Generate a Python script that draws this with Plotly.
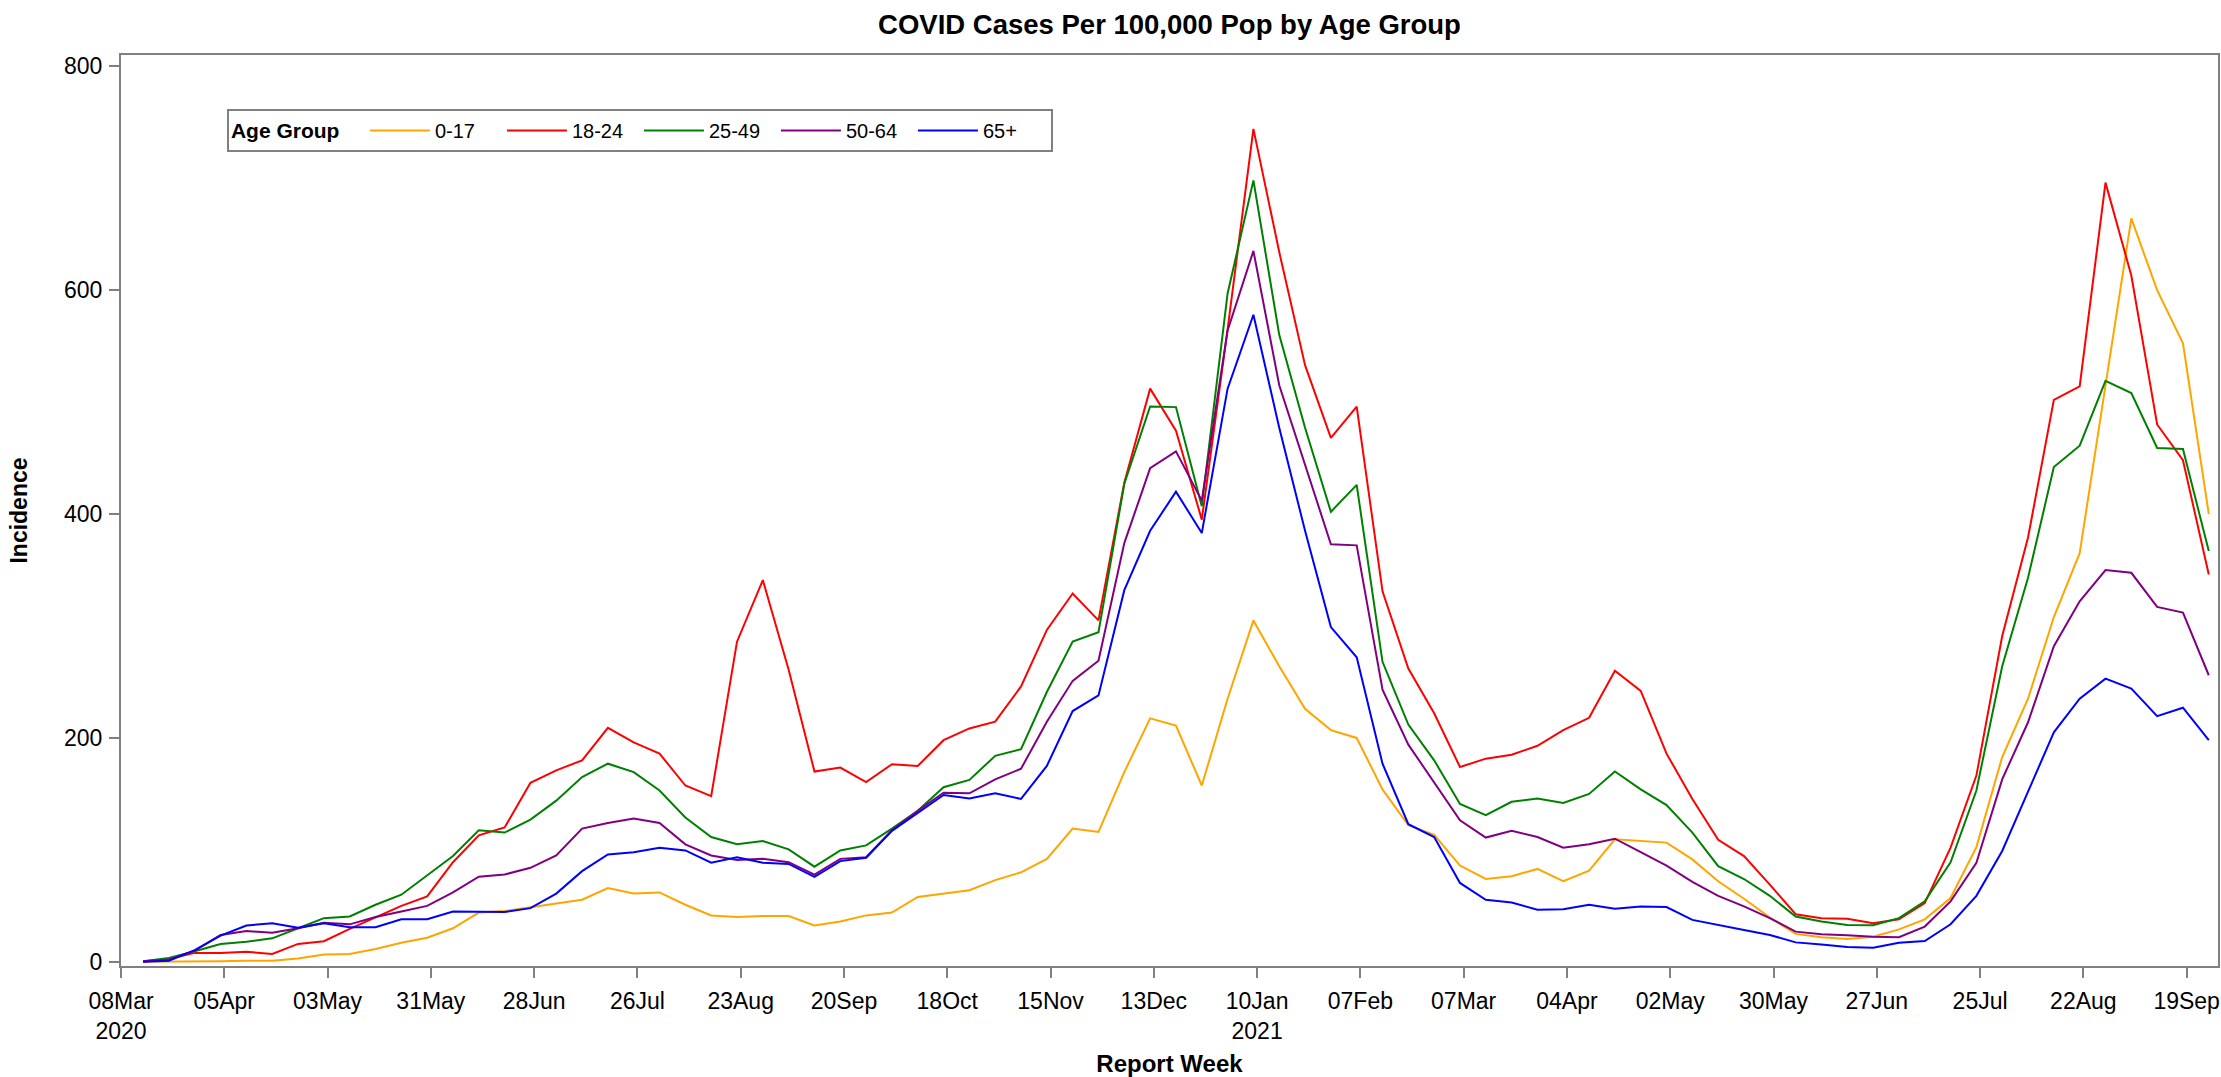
import plotly.graph_objects as go
import pandas as pd

# Report weeks (Saturdays), 14Mar2020 .. 25Sep2021
weeks = pd.date_range("2020-03-14", periods=81, freq="7D")

age_0_17 = [0, 0, 0, 0.5, 1, 1, 3, 6.5, 7, 11.5, 17, 21.5, 30, 44, 45.5, 49, 52.5, 55.5, 66, 61,
            62, 51, 41.5, 40, 41, 41, 32.5, 36, 41.5, 44, 58, 61, 64, 73, 80, 92, 119, 116, 169.5, 217.5,
            211, 157.5, 235, 305, 264, 226, 207, 200, 154, 122, 113.5, 86, 74, 76.5, 83, 72, 81.5, 109.5, 108, 106.5,
            91.5, 72, 56.4, 39.6, 25, 22, 20.4, 22.5, 29, 38, 57, 102.5, 183, 235, 308, 365, 515, 664, 600, 552.5,
            400]
age_18_24 = [0, 2.5, 8, 8, 9, 7, 16, 18.5, 29.5, 40, 50, 58.5, 89, 113, 120, 160, 171, 180, 209, 196,
             186, 157.5, 148, 286, 341, 261, 170, 173.5, 160.5, 176.5, 175, 198, 208.5, 214.5, 246, 296.5, 329, 305, 428, 512,
             474.5, 395, 565, 744, 634, 533, 468, 496, 331, 262, 222, 174, 181.5, 185, 193, 207, 218, 260, 242, 186,
             145.5, 109, 94.5, 69, 42.5, 39, 38.5, 34.5, 38, 52.5, 102, 166.4, 291, 379, 502, 514, 696, 613, 480, 448,
             346]
age_25_49 = [0.5, 3.5, 9.5, 16, 18, 21, 30, 39, 40.5, 51, 60, 77, 94.5, 117.5, 115.5, 127, 144, 165, 177, 169.5,
             153, 129, 111.5, 105, 108, 100.5, 85, 99.5, 104, 119, 135, 156, 162.5, 184, 190, 241, 286, 294.5, 427, 496,
             495.5, 407, 597, 698, 560, 477, 402, 426, 268, 212, 180, 141, 131, 143, 146, 142, 150, 170, 154, 140,
             115.5, 85.5, 74, 59, 40.5, 36, 33, 32.7, 39, 54, 89, 153, 264, 343, 442, 461, 519, 508, 459, 458,
             367]
age_50_64 = [0.5, 2, 10, 24, 27.5, 26, 30, 35, 33.5, 40, 45, 50, 62, 76, 78, 84, 95, 119, 124, 128,
             124, 105, 95, 91, 92, 89, 78, 92, 93.5, 117.5, 135, 151, 150.5, 163, 172.5, 214.5, 251, 269, 374, 441,
             456, 412, 564, 635, 515, 444, 373, 372, 243, 194, 160, 126.5, 111, 117, 111.5, 102, 105, 110, 98, 86,
             71.5, 59, 49.5, 39, 27, 24.6, 23.7, 22.5, 22, 31.5, 54, 88.5, 163, 214, 282, 322, 350, 347.5, 317, 312,
             256]
age_65_plus = [0, 1, 10.5, 23.5, 32.5, 34.5, 30.5, 34.5, 31, 31, 38, 38, 45, 44.5, 44.5, 48, 61, 81, 96, 98,
               102, 99.5, 88.5, 93.5, 88.5, 87.5, 76, 90, 93, 117, 133, 149, 146, 150.5, 145.5, 175, 224, 238, 332, 385,
               420, 383, 512, 578, 477, 385, 299, 272, 177, 123, 111.5, 70.5, 55.5, 53, 46.5, 47, 51, 47.5, 49.5, 49,
               37.5, 32.7, 28.5, 24, 17.4, 15.6, 13.2, 12.6, 17, 18.6, 33.6, 59, 99, 152, 205, 235, 253, 244, 219.5, 227,
               198]

groups = ["0-17", "18-24", "25-49", "50-64", "65+"]
series = [age_0_17, age_18_24, age_25_49, age_50_64, age_65_plus]
colors = ["#FFA500", "#FF0000", "#008000", "#800080", "#0000FF"]

tick_dates = pd.date_range("2020-03-08", periods=21, freq="28D")
tick_labels = ["08Mar<br>2020", "05Apr", "03May", "31May", "28Jun", "26Jul", "23Aug", "20Sep", "18Oct",
               "15Nov", "13Dec", "10Jan<br>2021", "07Feb", "07Mar", "04Apr", "02May", "30May", "27Jun",
               "25Jul", "22Aug", "19Sep"]
y_ticks = [0, 200, 400, 600, 800]

FONT = "Liberation Sans, Arial, sans-serif"
NARROW = "Liberation Sans Narrow, Liberation Sans, Arial, sans-serif"

fig = go.Figure()
for name, vals, col in zip(groups, series, colors):
    fig.add_trace(go.Scatter(x=weeks, y=vals, mode="lines", name=name,
                             line=dict(color=col, width=2)))

axis_common = dict(showline=True, linecolor="#808080", linewidth=2, mirror=True,
                   ticks="outside", ticklen=10, tickwidth=2, tickcolor="#808080",
                   showgrid=False, zeroline=False, automargin=False,
                   tickfont=dict(family=FONT, size=23, color="black"))

fig.update_layout(
    width=2221, height=1077,
    margin=dict(l=121, r=3, t=55, b=111),
    paper_bgcolor="white", plot_bgcolor="white",
    title=dict(text="<b>COVID Cases Per 100,000 Pop by Age Group</b>",
               x=0.5, xref="paper", xanchor="center",
               y=1 - 24 / 1077, yref="container", yanchor="middle",
               font=dict(family=FONT, size=27.5, color="black")),
    xaxis=dict(type="date", range=["2020-03-08", "2021-09-27 12:00"],
               tickvals=tick_dates, ticktext=tick_labels, ticklabelstandoff=3,
               title=dict(text="<b>Report Week</b>", standoff=14,
                          font=dict(family=FONT, size=24, color="black")),
               **axis_common),
    yaxis=dict(range=[-3.7, 810], tickvals=y_ticks, ticklabelstandoff=2,
               title=dict(text="<b>Incidence</b>", standoff=30,
                          font=dict(family=FONT, size=23, color="black")),
               **axis_common),
    legend=dict(orientation="h", x=0.0505, y=0.9407, xanchor="left", yanchor="top",
                bordercolor="#808080", borderwidth=2, bgcolor="white",
                title=dict(text="<b>Age Group</b>   ",
                           font=dict(family=NARROW, size=21, color="black")),
                font=dict(family=NARROW, size=20, color="black"),
                entrywidth=62, itemwidth=60),
    showlegend=True,
)

fig.write_html("out.html", config={"displayModeBar": False},
               post_script="document.body.style.margin='0';document.body.style.padding='0';")
